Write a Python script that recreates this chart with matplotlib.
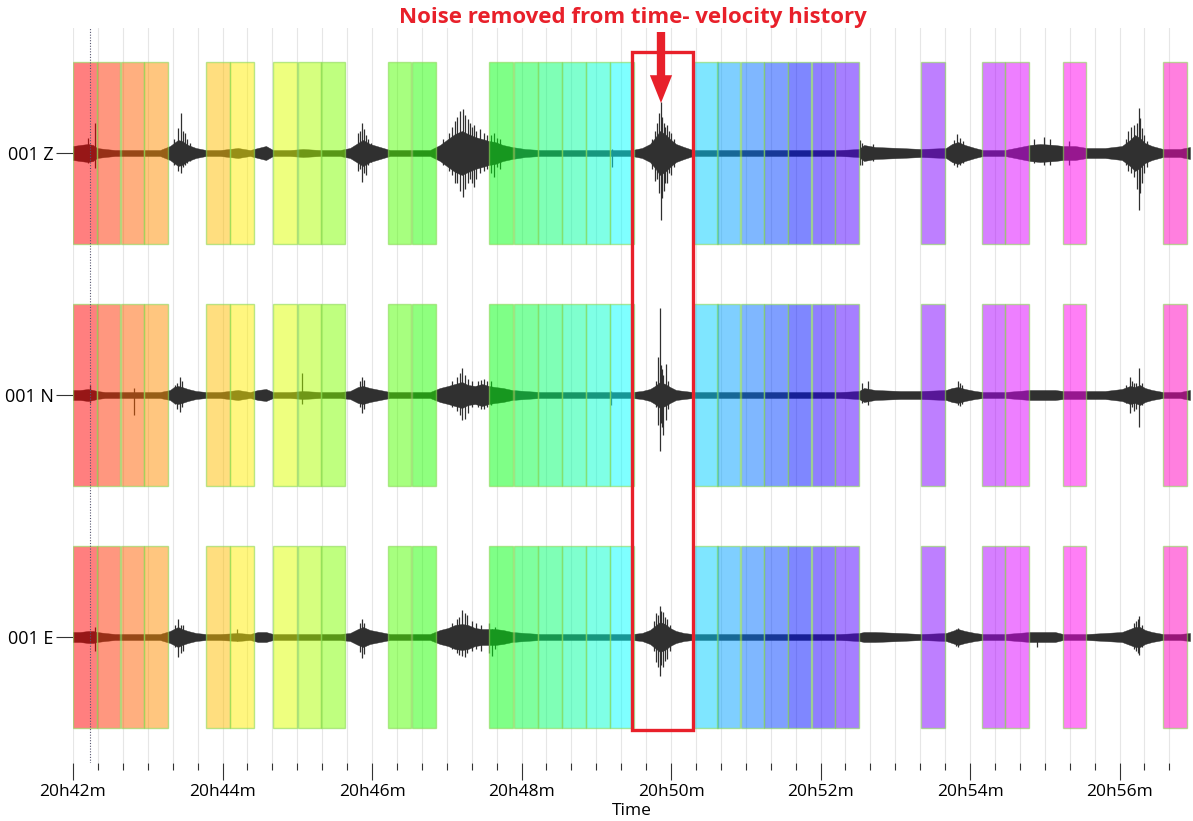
import matplotlib.pyplot as plt
from matplotlib.patches import Rectangle
from matplotlib.ticker import MultipleLocator, FuncFormatter
from matplotlib.colors import hsv_to_rgb

plt.rcParams['font.family'] = ['Open Sans', 'DejaVu Sans']

# time in minutes after 20h00
T = [42.000, 42.094, 42.201, 42.268, 42.321, 42.428, 42.562, 42.763, 42.963, 43.164,
     43.298, 43.351, 43.405, 43.458, 43.538, 43.645, 43.779, 43.967, 44.207, 44.368,
     44.475, 44.582, 44.676, 44.903, 45.077, 45.304, 45.572, 45.706, 45.813, 45.880,
     45.973, 46.107, 46.241, 46.508, 46.776, 46.910, 47.017, 47.110, 47.204, 47.284,
     47.378, 47.472, 47.565, 47.645, 47.752, 47.873, 48.047, 48.247, 48.649, 49.050,
     49.478, 49.612, 49.719, 49.786, 49.853, 49.920, 49.987, 50.067, 50.174, 50.294,
     50.656, 51.191, 51.726, 52.261, 52.515, 52.582, 52.729, 53.064, 53.345, 53.679,
     53.759, 53.839, 53.933, 54.067, 54.174, 54.468, 54.803, 54.936, 55.137, 55.244,
     55.405, 55.565, 55.806, 56.033, 56.140, 56.207, 56.274, 56.341, 56.435, 56.582,
     56.809, 56.943]

# envelope half-amplitude of each component
Z_ENV = [7, 8, 9, 8, 5, 4, 3, 3, 3, 3,
         7, 10, 13, 12, 8, 5, 3, 3, 5, 3,
         5, 7, 3, 3, 4, 3, 3, 5, 10, 13,
         9, 6, 3, 3, 3, 8, 14, 19, 22, 19,
         16, 14, 12, 11, 8, 6, 4, 3, 3, 3,
         3, 5, 9, 15, 22, 19, 14, 9, 6, 3,
         3, 3, 3, 3, 4, 8, 6, 5, 4, 5,
         9, 11, 8, 5, 3, 3, 8, 9, 8, 7,
         7, 5, 5, 7, 13, 18, 15, 10, 7, 4,
         4, 6]
N_ENV = [5, 5, 6, 5, 4, 3, 3, 3, 3, 3,
         5, 8, 9, 8, 6, 4, 3, 3, 5, 3,
         5, 6, 3, 3, 4, 3, 3, 4, 8, 9,
         7, 5, 3, 3, 3, 7, 9, 11, 13, 10,
         9, 11, 9, 8, 7, 5, 4, 3, 3, 3,
         3, 4, 6, 9, 13, 11, 8, 5, 4, 3,
         3, 3, 3, 3, 4, 7, 5, 4, 4, 5,
         7, 8, 6, 4, 3, 3, 5, 5, 5, 4,
         4, 4, 4, 6, 9, 8, 10, 7, 5, 3,
         3, 5]
E_ENV = [5, 5, 6, 6, 5, 4, 3, 3, 3, 3,
         6, 8, 10, 8, 6, 4, 3, 3, 4, 3,
         5, 5, 3, 3, 3, 3, 3, 4, 8, 10,
         7, 5, 3, 3, 3, 7, 9, 12, 13, 12,
         9, 8, 8, 8, 7, 5, 4, 3, 3, 3,
         3, 4, 7, 11, 15, 13, 9, 6, 4, 3,
         3, 3, 3, 3, 4, 5, 5, 4, 3, 4,
         6, 8, 6, 4, 3, 3, 5, 5, 5, 3,
         3, 3, 4, 5, 8, 10, 10, 7, 5, 3,
         3, 4]

# peaks: time, amplitude up, amplitude down
Z_PEAKS = [(42.201, 15, 10), (42.294, 30, 15), (43.351, 14, 12), (43.405, 25, 18),
           (43.445, 40, 20), (43.472, 22, 14), (43.498, 20, 12), (43.525, 14, 10),
           (43.565, 10, 8), (45.813, 20, 18), (45.840, 22, 16), (45.866, 30, 29),
           (45.893, 24, 20), (45.920, 18, 22), (45.947, 14, 12), (45.986, 10, 9),
           (46.950, 14, 12), (47.030, 20, 18), (47.070, 26, 22), (47.110, 32, 30),
           (47.137, 36, 30), (47.177, 42, 38), (47.217, 44, 44), (47.244, 38, 36),
           (47.284, 34, 30), (47.311, 30, 26), (47.338, 26, 30), (47.364, 28, 34),
           (47.391, 22, 26), (47.445, 24, 20), (47.498, 20, 18), (47.538, 18, 16),
           (47.592, 18, 20), (47.632, 20, 24), (47.672, 15, 14), (47.712, 14, 16),
           (49.211, 4, 14), (49.746, 14, 16), (49.786, 22, 28), (49.813, 30, 26),
           (49.839, 40, 40), (49.866, 51, 67), (49.880, 36, 45), (49.906, 30, 38),
           (49.920, 26, 30), (49.946, 28, 30), (49.973, 22, 20), (50.000, 20, 22),
           (50.040, 14, 14), (52.528, 13, 12), (52.555, 10, 12), (52.700, 9, 8),
           (53.786, 13, 12), (53.826, 19, 14), (53.866, 15, 12), (53.906, 12, 10),
           (54.860, 14, 10), (54.990, 16, 12), (55.070, 14, 12), (55.324, 12, 12),
           (56.087, 14, 12), (56.114, 22, 18), (56.154, 26, 20), (56.194, 28, 24),
           (56.234, 30, 36), (56.261, 45, 57), (56.274, 35, 40), (56.301, 25, 30),
           (56.328, 18, 20), (56.368, 12, 14)]
N_PEAKS = [(42.227, 10, 8), (42.816, 7, 20), (43.365, 10, 9), (43.391, 12, 14),
           (43.431, 18, 17), (43.458, 14, 12), (45.064, 22, 9), (45.840, 14, 12),
           (45.866, 18, 18), (45.893, 15, 14), (47.070, 14, 12), (47.137, 18, 16),
           (47.177, 22, 20), (47.204, 27, 25), (47.244, 20, 24), (47.284, 16, 18),
           (47.338, 14, 12), (47.418, 14, 12), (47.458, 15, 14), (47.498, 16, 14),
           (47.538, 14, 12), (47.592, 14, 10), (49.197, 4, 10), (49.799, 14, 12),
           (49.826, 38, 30), (49.853, 87, 56), (49.866, 30, 28), (49.880, 26, 32),
           (49.893, 20, 40), (49.933, 31, 25), (49.960, 14, 14), (52.555, 12, 8),
           (52.635, 14, 10), (53.839, 14, 10), (53.866, 12, 11), (53.893, 10, 9),
           (56.087, 10, 8), (56.140, 18, 18), (56.167, 14, 12), (56.194, 12, 16),
           (56.221, 12, 14), (56.261, 27, 32), (56.301, 12, 10)]
E_PEAKS = [(42.294, 10, 14), (43.365, 12, 10), (43.405, 18, 20), (43.445, 12, 16),
           (43.472, 12, 14), (44.194, 8, 4), (45.840, 14, 15), (45.866, 18, 21),
           (45.893, 14, 17), (47.070, 14, 12), (47.137, 18, 16), (47.164, 20, 18),
           (47.204, 27, 19), (47.244, 24, 20), (47.271, 22, 16), (47.338, 16, 14),
           (47.391, 14, 12), (47.458, 12, 14), (47.565, 14, 16), (47.605, 8, 19),
           (47.645, 10, 12), (49.773, 16, 14), (49.799, 24, 25), (49.826, 22, 30),
           (49.853, 31, 39), (49.866, 26, 28), (49.893, 25, 30), (49.920, 20, 24),
           (49.946, 18, 22), (49.986, 12, 14), (53.812, 8, 9), (53.839, 9, 10),
           (54.896, 4, 10), (56.194, 14, 12), (56.221, 16, 14), (56.248, 18, 16),
           (56.261, 21, 18), (56.301, 12, 10)]

CHANNELS = ["001 Z", "001 N", "001 E"]
OFFSETS = [484, 242, 0]

# selected windows (start, minutes)
WIN_START = [42.004, 42.317, 42.638, 42.954,
             43.779, 44.100,
             44.680, 45.006, 45.318,
             46.210, 46.535,
             47.569, 47.900, 48.221, 48.542, 48.863, 49.184,
             50.311, 50.611, 50.932, 51.248, 51.561, 51.882, 52.194,
             53.344,
             54.156, 54.468,
             55.240,
             56.586]
WIN_LEN = 0.317

fig = plt.figure(figsize=(11.93, 8.21), dpi=100)
ax = fig.add_axes([73 / 1193, 58 / 821, 1117 / 1193, 735 / 821])

trace_col = '#303030'
for env, peaks, off in zip([Z_ENV, N_ENV, E_ENV], [Z_PEAKS, N_PEAKS, E_PEAKS], OFFSETS):
    ax.fill_between(T, [off + a for a in env], [off - a for a in env],
                    color=trace_col, lw=0.3, zorder=2)
    ax.vlines([p[0] for p in peaks], [off - p[2] for p in peaks],
              [off + p[1] for p in peaks], color=trace_col, lw=0.9, zorder=2)

n = len(WIN_START)
for i, t0 in enumerate(WIN_START):
    rgb = hsv_to_rgb((i / n * 0.906, 1.0, 1.0))
    for off in OFFSETS:
        ax.add_patch(Rectangle((t0, off - 91), WIN_LEN, 182,
                               facecolor=(*rgb, 0.5),
                               edgecolor=(0.55, 0.85, 0.35, 0.6),
                               lw=1.0, zorder=3))

ax.axvline(42.227, color='#555570', ls=(0, (1, 1.5)), lw=0.8, zorder=4)

# highlighted event
red = '#e8202a'
ax.add_patch(Rectangle((49.478, -93), 0.816, 678, fill=False,
                       edgecolor=red, lw=2.4, zorder=6, clip_on=False))
ax.annotate('', xy=(49.866, 534), xytext=(49.866, 605),
            arrowprops=dict(facecolor=red, edgecolor='none', width=6,
                            headwidth=16, headlength=20, shrink=0),
            annotation_clip=False, zorder=7)
fig.text(633 / 1193, 1 - 18 / 821, "Noise removed from time- velocity history",
         ha='center', va='center', color=red, fontweight='bold', fontsize=16)

ax.set_xlim(42.0, 56.943)
ax.set_ylim(-126, 609)
ax.xaxis.set_major_locator(MultipleLocator(2))
ax.xaxis.set_minor_locator(MultipleLocator(1 / 3))
ax.xaxis.set_major_formatter(FuncFormatter(lambda v, p: f"20h{int(round(v))}m"))
ax.grid(which='both', axis='x', color='#e6e6e6', lw=0.8, zorder=0)
ax.set_axisbelow(True)
ax.set_yticks(OFFSETS)
ax.set_yticklabels(CHANNELS)
for s in ax.spines.values():
    s.set_visible(False)
ax.tick_params(axis='x', which='major', length=12, width=0.8, color='#333333',
               labelsize=12.5, pad=3)
ax.tick_params(axis='x', which='minor', length=5, width=0.8, color='#333333')
ax.tick_params(axis='y', length=12, width=0.8, color='#333333', labelsize=13, pad=2)
ax.set_xlabel("Time", fontsize=12.5, labelpad=2)

fig.savefig("out.png", dpi=100)
